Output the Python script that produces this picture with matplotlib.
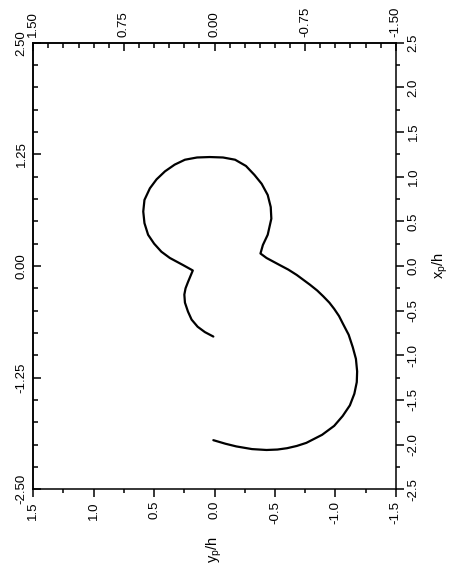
import numpy as np
import matplotlib
matplotlib.use("Agg")
import matplotlib.pyplot as plt
from matplotlib.ticker import MultipleLocator, FormatStrFormatter

plt.rcParams['font.family'] = ['Liberation Sans', 'DejaVu Sans']
plt.rcParams['axes.unicode_minus'] = False

# === Bahn des Partikels =================================================
y_p = [0.01, 0.08, 0.14, 0.19, 0.22, 0.245, 0.25, 0.24, 0.22, 0.18,
       0.26, 0.37, 0.44, 0.50, 0.55, 0.58, 0.59, 0.58, 0.535, 0.48,
       0.41, 0.33, 0.245, 0.145, 0.04, -0.07, -0.17, -0.26, -0.33, -0.39,
       -0.44, -0.465, -0.47, -0.44, -0.40, -0.38, -0.43, -0.54, -0.61, -0.68,
       -0.79, -0.85, -0.90, -0.95, -0.99, -1.03, -1.06, -1.11, -1.144, -1.17,
       -1.18, -1.177, -1.157, -1.12, -1.06, -0.99, -0.89, -0.76, -0.68, -0.60,
       -0.52, -0.43, -0.31, -0.18, -0.09, 0.01]
x_p = [-0.79, -0.74, -0.68, -0.60, -0.51, -0.41, -0.32, -0.25, -0.18, -0.05,
       0.01, 0.09, 0.16, 0.25, 0.35, 0.48, 0.61, 0.74, 0.87, 0.97,
       1.06, 1.135, 1.19, 1.215, 1.22, 1.215, 1.19, 1.12, 1.02, 0.92,
       0.795, 0.66, 0.53, 0.35, 0.235, 0.14, 0.09, 0.01, -0.04, -0.10,
       -0.21, -0.275, -0.34, -0.41, -0.48, -0.56, -0.64, -0.77, -0.91, -1.04,
       -1.18, -1.30, -1.43, -1.56, -1.68, -1.79, -1.89, -1.98, -2.015, -2.04,
       -2.055, -2.06, -2.05, -2.02, -1.99, -1.95]

bottom_ticks = [1.5, 1.0, 0.5, 0.0, -0.5, -1.0, -1.5]
right_ticks = [2.5, 2.0, 1.5, 1.0, 0.5, 0.0, -0.5, -1.0, -1.5, -2.0, -2.5]
top_ticks = [1.5, 0.75, 0.0, -0.75, -1.5]
left_ticks = [2.5, 1.25, 0.0, -1.25, -2.5]

# === Layout =============================================================
fig = plt.figure(figsize=(4.56, 5.82), dpi=100)
ax = fig.add_axes([0.073, 0.1593, 0.795, 0.7673])

ax.plot(y_p, x_p, color='black', lw=1.6, solid_capstyle='round',
        solid_joinstyle='round')

ax.set_xlim(1.5, -1.5)
ax.set_ylim(-2.5, 2.5)
for sp in ax.spines.values():
    sp.set_linewidth(1.1)

fs = 9.5
# Unten: y_p/h
ax.set_xticks(bottom_ticks)
ax.xaxis.set_minor_locator(MultipleLocator(0.25))
ax.xaxis.set_major_formatter(FormatStrFormatter('%.1f'))
ax.tick_params(axis='x', which='major', direction='out', length=5.5, width=1.1,
               labelsize=fs, labelrotation=90, pad=3)
ax.tick_params(axis='x', which='minor', direction='out', length=3, width=1.1)
ax.set_xlabel(r'y$_\mathregular{p}$/h', fontsize=fs + 1, rotation=90, labelpad=9)

# Rechts: x_p/h
ax.yaxis.tick_right()
ax.yaxis.set_label_position('right')
ax.set_yticks(right_ticks)
ax.yaxis.set_minor_locator(MultipleLocator(0.25))
ax.yaxis.set_major_formatter(FormatStrFormatter('%.1f'))
ax.tick_params(axis='y', which='major', direction='out', length=5.5, width=1.1,
               labelsize=fs, labelrotation=90, pad=3)
ax.tick_params(axis='y', which='minor', direction='out', length=3, width=1.1)
for lab in ax.get_yticklabels():
    lab.set_va('center')
ax.set_ylabel(r'x$_\mathregular{p}$/h', fontsize=fs + 1, rotation=90, labelpad=8)

# Oben / links: zweite Skalen
top = ax.secondary_xaxis('top')
top.set_xticks(top_ticks)
top.xaxis.set_minor_locator(MultipleLocator(0.125))
top.xaxis.set_major_formatter(FormatStrFormatter('%.2f'))
top.tick_params(which='major', direction='in', length=6, width=1.1,
                labelsize=fs, labelrotation=90, pad=4)
top.tick_params(which='minor', direction='in', length=3.5, width=1.1)
top.spines['top'].set_linewidth(1.1)

left = ax.secondary_yaxis('left')
left.set_yticks(left_ticks)
left.yaxis.set_minor_locator(MultipleLocator(0.25))
left.yaxis.set_major_formatter(FormatStrFormatter('%.2f'))
left.tick_params(which='major', direction='in', length=6, width=1.1,
                 labelsize=fs, labelrotation=90, pad=4)
left.tick_params(which='minor', direction='in', length=3.5, width=1.1)
left.spines['left'].set_linewidth(1.1)
for lab in left.get_yticklabels():
    lab.set_va('center')

fig.savefig('out.png', dpi=100)
